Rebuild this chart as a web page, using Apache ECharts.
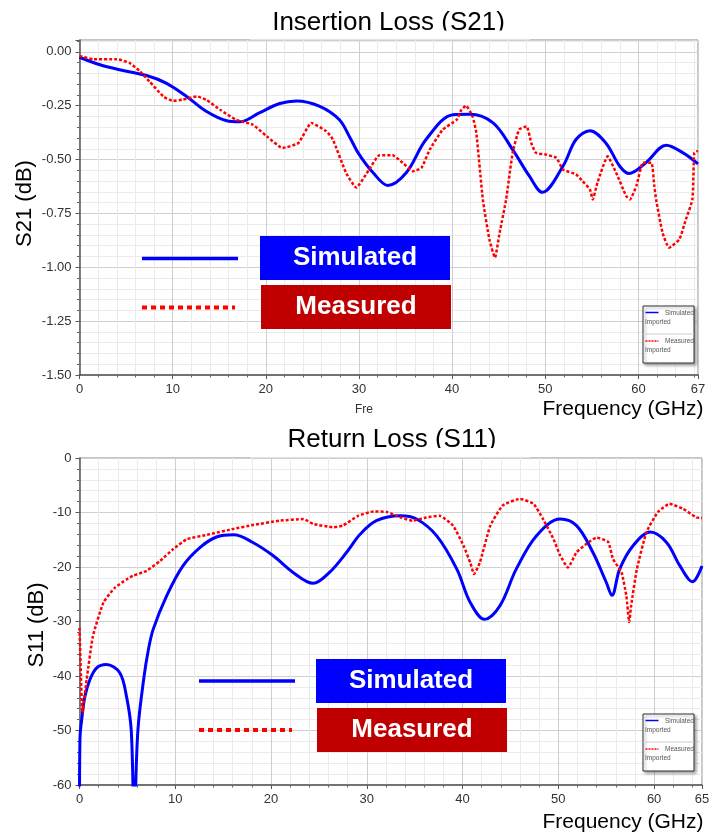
<!DOCTYPE html>
<html>
<head>
<meta charset="utf-8">
<title>Insertion Loss / Return Loss</title>
<script src="https://cdn.jsdelivr.net/npm/echarts@6/dist/echarts.min.js"></script>
<style>
  html, body { margin: 0; padding: 0; background: #fff; }
  #chart { width: 721px; height: 833px; }
</style>
</head>
<body>
<div id="chart"></div>
<script>
// Insertion loss S21 (GHz / dB)
var s21SimFreq = [0, 2.2, 4.3, 7.2, 9.3, 11.5, 13.6, 15.8, 17.2, 19.3, 21.5, 23.3, 25.8, 27.9, 29.0, 30.0, 31.5, 33.1, 35.1, 37.2, 40.1, 41.9, 44.4, 46.5, 48.3, 49.7, 51.9, 53.3, 54.8, 56.5, 58.0, 59.0, 60.8, 63.0, 64.8, 66.4];
var s21SimDb = [-0.025, -0.06, -0.083, -0.11, -0.145, -0.207, -0.276, -0.32, -0.325, -0.283, -0.24, -0.228, -0.253, -0.315, -0.395, -0.475, -0.56, -0.62, -0.56, -0.407, -0.292, -0.29, -0.33, -0.454, -0.577, -0.652, -0.531, -0.407, -0.366, -0.423, -0.531, -0.565, -0.515, -0.434, -0.469, -0.52];

var s21MeasFreq = [0, 1.5, 4, 5.4, 6.5, 7.5, 9.0, 10.0, 11.1, 12.6, 13.6, 15.1, 16.8, 18.6, 20.1, 21.8, 23.5, 24.9, 26.5, 27.2, 28.6, 29.7, 31.1, 32.2, 33.6, 34.7, 35.8, 36.7, 37.6, 39.0, 40.5, 41.0, 41.5, 42.2, 42.6, 43.3, 44.0, 44.6, 45.1, 45.8, 46.5, 47.2, 48.0, 48.5, 49.0, 50.1, 51.2, 51.9, 53.3, 54.0, 54.8, 55.1, 55.6, 56.7, 57.6, 58.7, 59.1, 59.8, 60.5, 61.4, 61.7, 61.9, 62.6, 63.3, 64.4, 65.1, 65.8, 66.0, 66.4];
var s21MeasDb = [-0.019, -0.034, -0.034, -0.052, -0.091, -0.137, -0.207, -0.227, -0.222, -0.207, -0.222, -0.269, -0.315, -0.338, -0.392, -0.446, -0.423, -0.33, -0.369, -0.407, -0.56, -0.63, -0.546, -0.48, -0.48, -0.515, -0.554, -0.539, -0.454, -0.361, -0.315, -0.269, -0.25, -0.3, -0.376, -0.685, -0.87, -0.955, -0.84, -0.685, -0.469, -0.361, -0.346, -0.423, -0.469, -0.477, -0.492, -0.546, -0.569, -0.6, -0.639, -0.685, -0.608, -0.485, -0.56, -0.67, -0.685, -0.62, -0.515, -0.515, -0.62, -0.685, -0.84, -0.909, -0.87, -0.778, -0.685, -0.469, -0.46];

// Return loss S11 (GHz / dB)
var s11SimFreq = [0, 0.05, 0.3, 0.57, 1.1, 1.8, 2.8, 4.2, 4.9, 5.4, 5.7, 6.1, 6.7, 7.2, 7.7, 9.1, 10.8, 12.6, 14.3, 16.1, 18.1, 20.2, 22.3, 24.4, 26.1, 27.9, 29.3, 31.0, 33.5, 35.2, 37.3, 39.4, 40.8, 42.3, 43.9, 45.6, 47.7, 50.2, 51.9, 53.6, 55.0, 55.6, 56.4, 57.8, 59.6, 61.3, 62.7, 64.0, 65];
var s11SimDb = [-64, -51.5, -47, -43.7, -40.6, -38.5, -37.9, -39.4, -43.7, -49.9, -66, -49.9, -40.6, -35.1, -31.4, -25.3, -19.8, -16.4, -14.5, -14.1, -15.5, -17.9, -21.0, -23.0, -21.0, -17.3, -14.0, -11.5, -10.6, -11.2, -14.3, -20.4, -26.5, -29.6, -27.1, -20.4, -14.3, -11.2, -12.4, -17.3, -22.8, -25.2, -20.4, -16.1, -13.6, -15.5, -19.8, -22.7, -19.8];

var s11MeasFreq = [0, 0.15, 0.3, 0.75, 1.4, 2.5, 3.7, 4.9, 5.6, 7.0, 8.4, 9.8, 11.2, 13.3, 16.1, 18.1, 20.9, 23.4, 24.4, 26.5, 27.5, 29.1, 30.7, 32.1, 33.5, 34.8, 36.2, 37.6, 39.0, 40.1, 40.8, 41.2, 41.8, 42.9, 44.2, 46.0, 47.4, 48.4, 49.5, 50.2, 51.0, 51.9, 52.9, 54.0, 55.2, 55.7, 56.6, 57.1, 57.4, 57.6, 58.2, 59.2, 60.4, 61.6, 63.0, 64.4, 65];
var s11MeasDb = [-31.2, -40, -46.8, -40.6, -32.7, -26.5, -23.8, -22.3, -21.6, -20.7, -18.9, -16.7, -14.9, -14.1, -13.0, -12.3, -11.5, -11.2, -12.1, -12.7, -12.4, -10.6, -9.8, -9.9, -10.9, -11.5, -10.9, -10.6, -12.4, -16.1, -19.2, -21.3, -19.2, -12.4, -8.7, -7.5, -8.4, -11.2, -14.9, -17.9, -20.1, -17.3, -15.8, -14.6, -15.4, -18.5, -21.0, -25.3, -30.1, -27.1, -20.4, -13.6, -9.9, -8.4, -9.3, -10.9, -11.0];

// axis ranges: [min, max, interval]
var s21XRange = [0, 66.4, 10];
var s21YRange = [-1.5, 0.055, 0.25];
var s11XRange = [0, 65, 10];
var s11YRange = [-60, 0, 10];
var s21XEndLabel = '67';

var seriesNames = ['Simulated', 'Measured'];

function pairs(xs, ys) {
  return xs.map(function (x, i) { return [x, ys[i]]; });
}

var FONT = 'Liberation Sans';
var BLUE = '#0000ff';
var RED = '#ff0000';

function xAxisFor(grid, range, fmt) {
  return {
    type: 'value', gridIndex: grid,
    min: range[0], max: range[1], interval: range[2],
    axisLine: { show: true, onZero: false, lineStyle: { color: '#555', width: 1.5 } },
    axisTick: { show: true, length: 4, lineStyle: { color: '#555' } },
    minorTick: { show: true, splitNumber: 5, length: 2.5, lineStyle: { color: '#666' } },
    axisLabel: { color: '#333', fontSize: 13, margin: 8, formatter: fmt },
    splitLine: { show: true, lineStyle: { color: '#cfcfcf', width: 1 } },
    minorSplitLine: { show: true, lineStyle: { color: '#ebebeb', width: 1 } }
  };
}

function yAxisFor(grid, range, fmt) {
  return {
    type: 'value', gridIndex: grid,
    min: range[0], max: range[1], interval: range[2],
    axisLine: { show: true, onZero: false, lineStyle: { color: '#555', width: 1.5 } },
    axisTick: { show: true, length: 4, lineStyle: { color: '#555' } },
    minorTick: { show: true, splitNumber: 5, length: 2.5, lineStyle: { color: '#666' } },
    axisLabel: { color: '#333', fontSize: 13, margin: 8, showMaxLabel: range[1] === 0, formatter: fmt },
    splitLine: { show: true, lineStyle: { color: '#cfcfcf', width: 1 } },
    minorSplitLine: { show: true, lineStyle: { color: '#ebebeb', width: 1 } }
  };
}

function txt(x, y, s, font, fill, extra) {
  var el = {
    type: 'text', x: x, y: y, z: 20,
    style: { text: s, font: font, fill: fill, align: 'center', verticalAlign: 'middle',
             textAlign: 'center', textVerticalAlign: 'middle' }
  };
  if (extra) for (var k in extra) el[k] = extra[k];
  return el;
}

function rect(x, y, w, h, fill, z) {
  return { type: 'rect', z: z || 20, shape: { x: x, y: y, width: w, height: h }, style: { fill: fill } };
}

function hline(x1, x2, y, color, width, dash) {
  return { type: 'line', z: 21, shape: { x1: x1, y1: y, x2: x2, y2: y },
           style: { stroke: color, lineWidth: width, lineDash: dash || null } };
}

// the big coloured key laid over each plot
function bigKey(lineX, lineY1, lineY2, boxX, boxY1, boxY2) {
  return [
    hline(lineX, lineX + 96, lineY1, BLUE, 3.5),
    hline(lineX, lineX + 93, lineY2, RED, 4, [5, 4]),
    rect(boxX, boxY1, 190, 44, BLUE),
    rect(boxX + 1, boxY2, 190, 44, '#c00000'),
    txt(boxX + 95, boxY1 + 22, seriesNames[0], 'bold 26px "' + FONT + '"', '#fff', { z: 22 }),
    txt(boxX + 96, boxY2 + 22, seriesNames[1], 'bold 26px "' + FONT + '"', '#fff', { z: 22 })
  ];
}

// the small boxed legend in the lower right corner
function smallKey(x, y) {
  var f = '6.5px "' + FONT + '"';
  function t(tx, ty, s) {
    return { type: 'text', x: tx, y: ty, z: 23,
             style: { text: s, font: f, fill: '#555', align: 'left', verticalAlign: 'middle',
                      textAlign: 'left', textVerticalAlign: 'middle' } };
  }
  return [
    { type: 'rect', z: 20, shape: { x: x, y: y, width: 51, height: 57 },
      style: { fill: '#fff', stroke: '#333', lineWidth: 1,
               shadowBlur: 3, shadowOffsetX: 2, shadowOffsetY: 2, shadowColor: 'rgba(0,0,0,0.35)' } },
    hline(x + 2.5, x + 15.5, y + 6.5, BLUE, 1.5),
    t(x + 22, y + 7, seriesNames[0]),
    t(x + 2, y + 16, 'Imported'),
    { type: 'line', z: 21, shape: { x1: x, y1: y + 28, x2: x + 51, y2: y + 28 }, style: { stroke: '#ccc', lineWidth: 1 } },
    hline(x + 2.5, x + 15.5, y + 35, RED, 1.5, [2, 1]),
    t(x + 22, y + 35, seriesNames[1]),
    t(x + 2, y + 44, 'Imported')
  ];
}

var titleFont = '26px "' + FONT + '"';
var nameFont = '22px "' + FONT + '"';
var freqFont = '21px "' + FONT + '"';

var graphics = [].concat(
  [
    txt(388.5, 22.5, 'Insertion Loss (S21)', titleFont, '#000', { z: 5 }),
    rect(250, 30.5, 280, 9, '#fff', 6),
    txt(392, 439.5, 'Return Loss (S11)', titleFont, '#000', { z: 5 }),
    rect(250, 448, 280, 9.5, '#fff', 6),
    txt(25, 203.5, 'S21 (dB)', nameFont, '#000', { rotation: Math.PI / 2 }),
    txt(37, 625, 'S11 (dB)', nameFont, '#000', { rotation: Math.PI / 2 }),
    txt(623, 409, 'Frequency (GHz)', freqFont, '#000'),
    txt(623, 822, 'Frequency (GHz)', freqFont, '#000'),
    txt(364, 410, 'Fre', '12px "' + FONT + '"', '#333')
  ],
  bigKey(142, 258.5, 307.5, 260, 236, 285),
  bigKey(199, 681, 730, 316, 659, 708),
  smallKey(643, 306),
  smallKey(643, 714)
);

var chart = echarts.init(document.getElementById('chart'), null, { renderer: 'canvas' });

chart.setOption({
  backgroundColor: '#fff',
  animation: false,
  textStyle: { fontFamily: FONT },
  grid: [
    { left: 79.5, right: 23, top: 40, height: 335, show: true, borderColor: '#888', borderWidth: 1 },
    { left: 79.5, right: 19, top: 458, height: 327, show: true, borderColor: '#888', borderWidth: 1 }
  ],
  xAxis: [
    xAxisFor(0, s21XRange, function (v) { return v === s21XRange[1] ? s21XEndLabel : String(v); }),
    xAxisFor(1, s11XRange, function (v) { return String(v); })
  ],
  yAxis: [
    yAxisFor(0, s21YRange, function (v) { return Math.abs(v) < 1e-9 ? '0.00' : v.toFixed(2); }),
    yAxisFor(1, s11YRange, function (v) { return String(Math.round(v)); })
  ],
  series: [
    { name: seriesNames[0], type: 'line', xAxisIndex: 0, yAxisIndex: 0, data: pairs(s21SimFreq, s21SimDb),
      showSymbol: false, smooth: 0.35, lineStyle: { color: BLUE, width: 3 }, itemStyle: { color: BLUE }, z: 3 },
    { name: seriesNames[1], type: 'line', xAxisIndex: 0, yAxisIndex: 0, data: pairs(s21MeasFreq, s21MeasDb),
      showSymbol: false, smooth: 0.15, lineStyle: { color: RED, width: 2.5, type: [3, 2] }, itemStyle: { color: RED }, z: 4 },
    { name: seriesNames[0], type: 'line', xAxisIndex: 1, yAxisIndex: 1, data: pairs(s11SimFreq, s11SimDb),
      showSymbol: false, smooth: 0.35, lineStyle: { color: BLUE, width: 3 }, itemStyle: { color: BLUE }, z: 3 },
    { name: seriesNames[1], type: 'line', xAxisIndex: 1, yAxisIndex: 1, data: pairs(s11MeasFreq, s11MeasDb),
      showSymbol: false, smooth: 0.15, lineStyle: { color: RED, width: 2.5, type: [3, 2] }, itemStyle: { color: RED }, z: 4 }
  ],
  graphic: { elements: graphics }
});
</script>
</body>
</html>
